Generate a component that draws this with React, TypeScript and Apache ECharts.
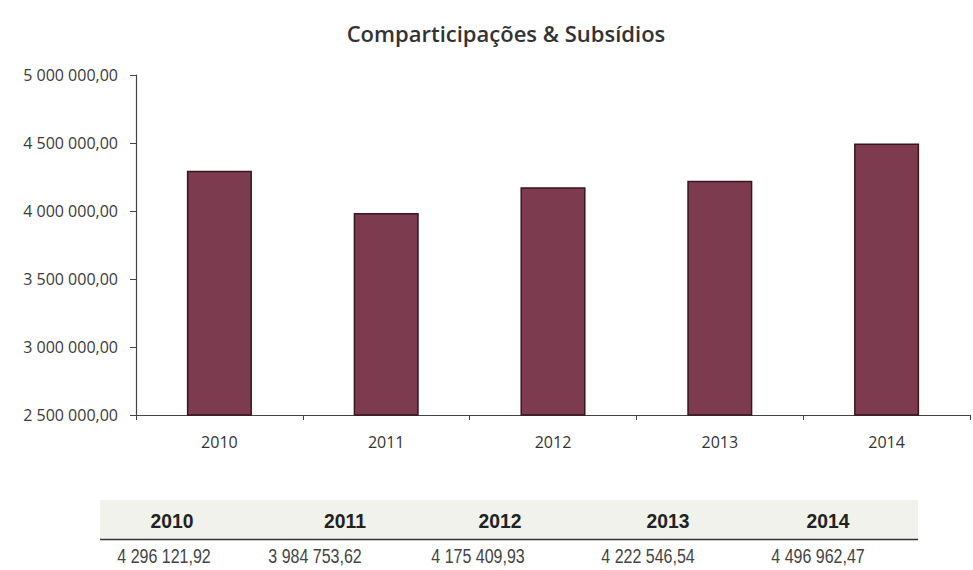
import React, { useEffect, useRef } from "react";
import * as echarts from "echarts";

const title = "Comparticipações & Subsídios";
const years = ["2010", "2011", "2012", "2013", "2014"];
const values = [4296121.92, 3984753.62, 4175409.93, 4222546.54, 4496962.47];
const tableLabels = ["4 296 121,92", "3 984 753,62", "4 175 409,93", "4 222 546,54", "4 496 962,47"];
const yMin = 2500000;
const yMax = 5000000;
const yStep = 500000;

const headerX = [172, 345, 500, 668, 828];
const valueX = [164, 315, 478, 648, 818];

function fmt(v: number): string {
  const s = Math.round(v).toString().replace(/\B(?=(\d{3})+(?!\d))/g, " ");
  return s + ",00";
}

export default function App() {
  const ref = useRef<HTMLDivElement>(null);
  useEffect(() => {
    document.body.style.margin = "0";
    const chart = echarts.init(ref.current!, undefined, { renderer: "svg" });
    const graphics: any[] = [
      {
        type: "rect",
        shape: { x: 100, y: 500, width: 818, height: 39 },
        style: { fill: "#f2f2ec" },
      },
      {
        type: "line",
        shape: { x1: 100, y1: 539.5, x2: 918, y2: 539.5 },
        style: { stroke: "#333", lineWidth: 1.5 },
      },
    ];
    years.forEach((y, i) => {
      graphics.push({
        type: "text",
        x: headerX[i],
        y: 521,
        scaleX: 0.92,
        style: {
          text: y,
          fill: "#222",
          font: "bold 21px 'Liberation Sans', Arial, sans-serif",
          align: "center",
          verticalAlign: "middle",
        },
      });
      graphics.push({
        type: "text",
        x: valueX[i],
        y: 556,
        scaleX: 0.8,
        style: {
          text: tableLabels[i],
          fill: "#444",
          font: "20px 'Liberation Sans', Arial, sans-serif",
          align: "center",
          verticalAlign: "middle",
        },
      });
    });
    chart.setOption({
      animation: false,
      backgroundColor: "#ffffff",
      title: {
        text: title,
        left: 501,
        textAlign: "center",
        top: 17,
        textStyle: {
          fontFamily: "'Open Sans', 'Noto Sans', sans-serif",
          fontSize: 22,
          fontWeight: 600,
          color: "#333",
        },
      },
      grid: { left: 136, right: 3, top: 75, bottom: 155 },
      xAxis: {
        type: "category",
        data: years,
        axisLine: { lineStyle: { color: "#444", width: 1.2 } },
        axisTick: { show: true, inside: false, length: 5, lineStyle: { color: "#444" } },
        axisLabel: {
          margin: 19,
          fontSize: 16,
          color: "#333",
          fontFamily: "'Open Sans', 'Noto Sans', sans-serif",
        },
      },
      yAxis: {
        type: "value",
        min: yMin,
        max: yMax,
        interval: yStep,
        splitLine: { show: false },
        axisLine: { show: true, lineStyle: { color: "#444", width: 1.2 } },
        axisTick: { show: true, length: 6, lineStyle: { color: "#444" } },
        axisLabel: {
          formatter: (v: number) => fmt(v),
          margin: 18,
          fontSize: 16,
          color: "#3a3a3a",
          fontFamily: "'Open Sans', 'Noto Sans', sans-serif",
        },
      },
      series: [
        {
          type: "bar",
          data: values,
          barWidth: "39%",
          itemStyle: {
            color: "#7d3b4f",
            borderColor: "#3a1520",
            borderWidth: 1.5,
          },
        },
      ],
      graphic: graphics,
    });
    return () => chart.dispose();
  }, []);
  return <div ref={ref} style={{ width: 973, height: 570, position: "absolute", left: 0, top: 0 }} />;
}
